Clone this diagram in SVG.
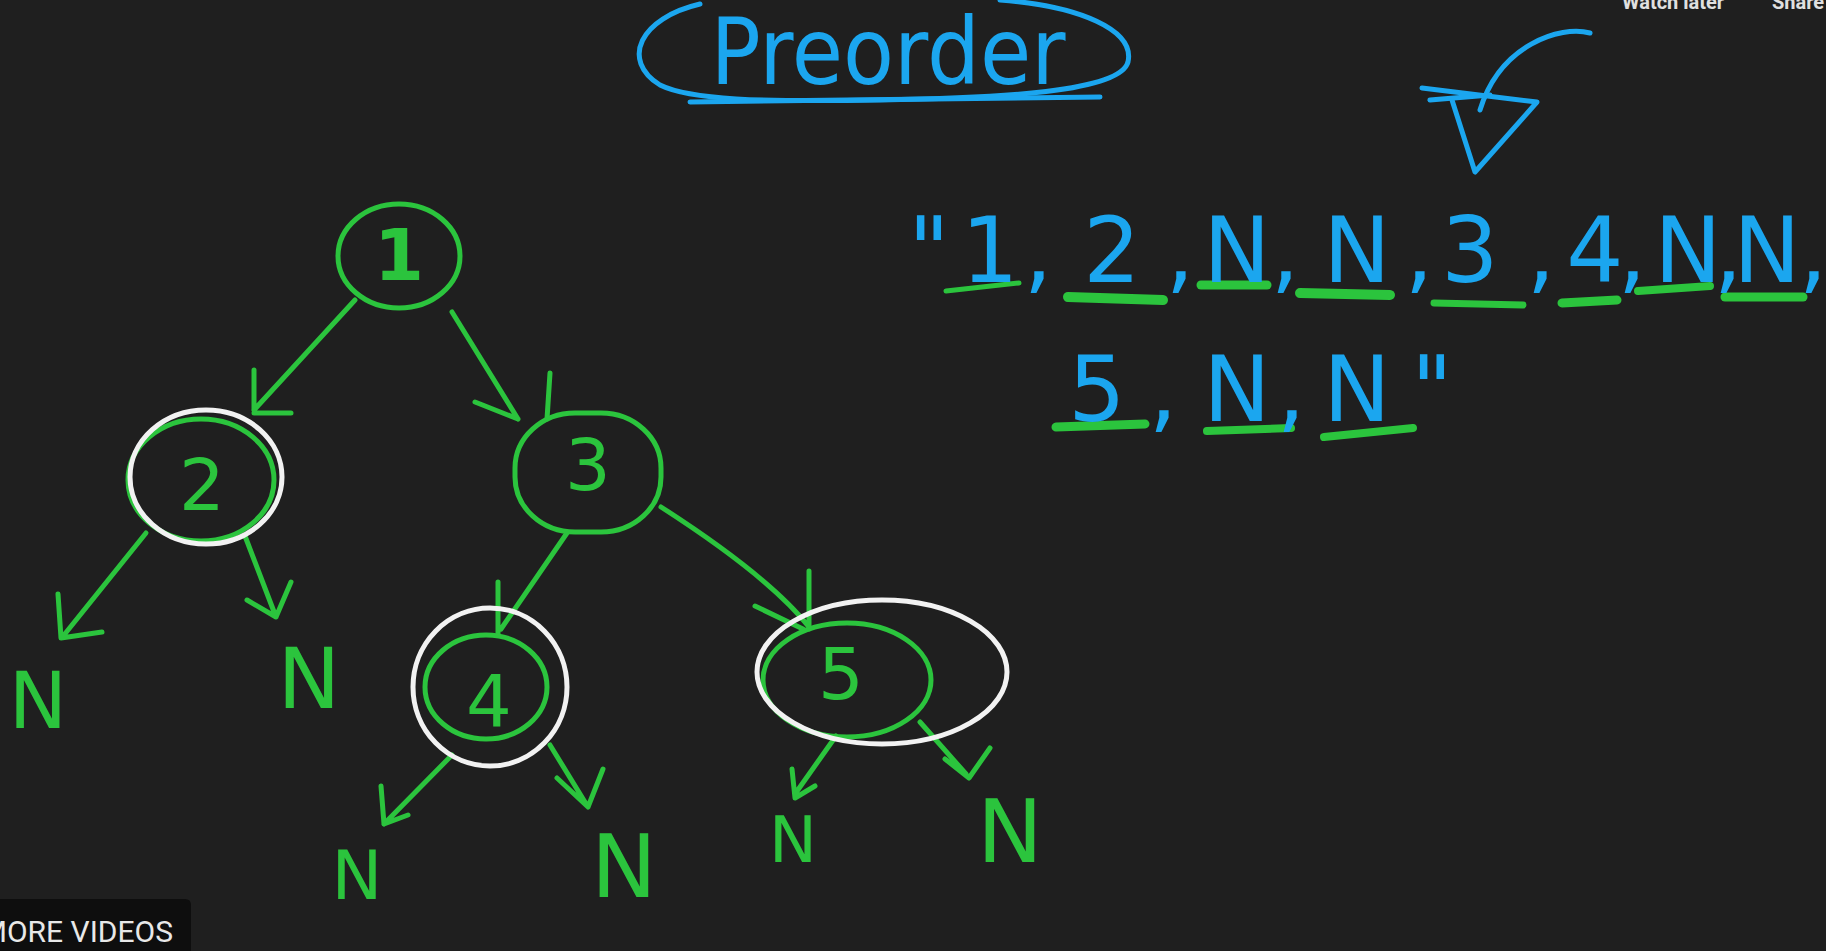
<svg xmlns="http://www.w3.org/2000/svg" width="1826" height="951" viewBox="0 0 1826 951">
<style>
.g{fill:none;stroke:#2bc43d;stroke-width:5;stroke-linecap:round;stroke-linejoin:round}
.w{fill:none;stroke:#f2f2f2;stroke-width:5}
.b{fill:none;stroke:#1ba6ef;stroke-width:5;stroke-linecap:round;stroke-linejoin:round}
.u{fill:none;stroke:#2bc43d;stroke-linecap:round}
.gt{fill:#2bc43d;font-family:"DejaVu Sans",sans-serif;text-anchor:middle}
.bt{fill:#1ba6ef;font-family:"DejaVu Sans",sans-serif;text-anchor:middle}
.nt{fill:#2bc43d;font-family:"DejaVu Sans",sans-serif;font-size:72px;text-anchor:middle}
</style>
<rect width="1826" height="951" fill="#1f1f1f"/>
<text x="1622" y="9" font-family="Roboto,sans-serif" font-weight="bold" font-size="20" fill="#e0e0e0">Watch later</text>
<text x="1772" y="9" font-family="Roboto,sans-serif" font-weight="bold" font-size="20" fill="#e0e0e0">Share</text>

<g id="title">
<path class="b" d="M700 4 C640 18 620 60 660 85 C690 100 760 102 880 100 C1000 98 1120 92 1128 62 C1135 30 1080 6 1000 0" stroke-width="6"/>
<path class="b" d="M690 102 L1100 97" stroke-width="5"/>
<text x="888" y="84" class="bt" font-size="92" textLength="355" lengthAdjust="spacingAndGlyphs">Preorder</text>
</g>

<g id="mark">
<path class="b" d="M1590 33 C1560 25 1500 45 1480 110" stroke-width="6"/>
<path class="b" d="M1422 88 L1537 102 L1475 172 L1452 100" stroke-width="8"/>
<path class="b" d="M1430 100 L1490 95" stroke-width="8"/>
</g>

<g id="sequence">
<path class="u" d="M946 291 L1019 283" stroke-width="5"/>
<path class="u" d="M1068 297 L1163 300" stroke-width="10"/>
<path class="u" d="M1201 285 L1267 285" stroke-width="9"/>
<path class="u" d="M1300 293 L1390 295" stroke-width="10"/>
<path class="u" d="M1434 303 L1523 305" stroke-width="7"/>
<path class="u" d="M1562 303 L1617 300" stroke-width="9"/>
<path class="u" d="M1638 291 L1710 286" stroke-width="8"/>
<path class="u" d="M1725 297 L1803 297" stroke-width="9"/>
<path class="u" d="M1056 427 L1145 424" stroke-width="9"/>
<path class="u" d="M1207 431 L1291 428" stroke-width="8"/>
<path class="u" d="M1324 437 L1413 428" stroke-width="8"/>
<text class="bt" font-size="90" x="929 990 1038 1112 1180 1237 1285 1357 1419 1470 1541 1595 1632 1688 1728 1767 1813" y="282">"1,2,N,N,3,4,N,N,</text>
<text class="bt" font-size="90" x="1097 1163 1237 1291 1357 1432" y="421">5,N,N"</text>
</g>

<g id="connectors">
<path class="g" d="M355 300 L254 410 M254 370 L254 410 M254 413 L291 413"/>
<path class="g" d="M452 312 L518 419 M475 402 L518 419 M550 373 L547 419"/>
<path class="g" d="M146 533 L64 635 M58 594 L61 638 L102 632"/>
<path class="g" d="M245 536 L276 617 M247 600 L276 617 L291 582"/>
<path class="g" d="M567 533 L501 629 M498 582 L498 635"/>
<path class="g" d="M661 507 C720 545 780 590 809 627 M755 606 L803 629 M809 571 L809 629"/>
<path class="g" d="M452 755 L384 824 M381 786 L384 824 L408 815"/>
<path class="g" d="M550 745 L588 807 M557 778 L588 807 L603 769"/>
<path class="g" d="M836 736 L795 794 M792 769 L795 798 L815 786"/>
<path class="g" d="M920 722 L966 774 M945 759 L969 778 L990 748"/>
</g>

<g id="node1">
<ellipse class="g" cx="399" cy="256" rx="61" ry="52"/>
<text class="nt" x="399" y="280" font-weight="bold">1</text>
</g>
<g id="node2">
<ellipse class="g" cx="201" cy="480" rx="73" ry="61"/>
<ellipse class="w" cx="206" cy="477" rx="76" ry="67"/>
<text class="nt" x="202" y="510" font-size="66">2</text>
</g>
<g id="node3">
<rect class="g" x="515" y="413" width="146" height="119" rx="60" ry="55"/>
<text class="nt" x="588" y="490" font-size="58">3</text>
</g>
<g id="node4">
<ellipse class="g" cx="486" cy="687" rx="61" ry="52"/>
<ellipse class="w" cx="490" cy="687" rx="77" ry="79"/>
<text class="nt" x="489" y="726" font-size="92">4</text>
</g>
<g id="node5">
<ellipse class="g" cx="847" cy="680" rx="84" ry="57"/>
<ellipse class="w" cx="882" cy="672" rx="125" ry="72"/>
<text class="nt" x="841" y="699" font-size="58">5</text>
</g>

<g id="nulls">
<text class="gt" font-size="78" x="38" y="728">N</text>
<text class="gt" font-size="84" x="309" y="708">N</text>
<text class="gt" font-size="68" x="357" y="899">N</text>
<text class="gt" font-size="88" x="624" y="897">N</text>
<text class="gt" font-size="64" x="793" y="862">N</text>
<text class="gt" font-size="88" x="1010" y="862">N</text>
</g>

<g id="more-videos">
<path d="M0 899 H185 Q191 899 191 905 V951 H0 Z" fill="#0e0e0e"/>
<text x="173" y="942" text-anchor="end" font-family="Roboto,sans-serif" font-size="30" fill="#e8e8e8">MORE VIDEOS</text>
</g>
</svg>
